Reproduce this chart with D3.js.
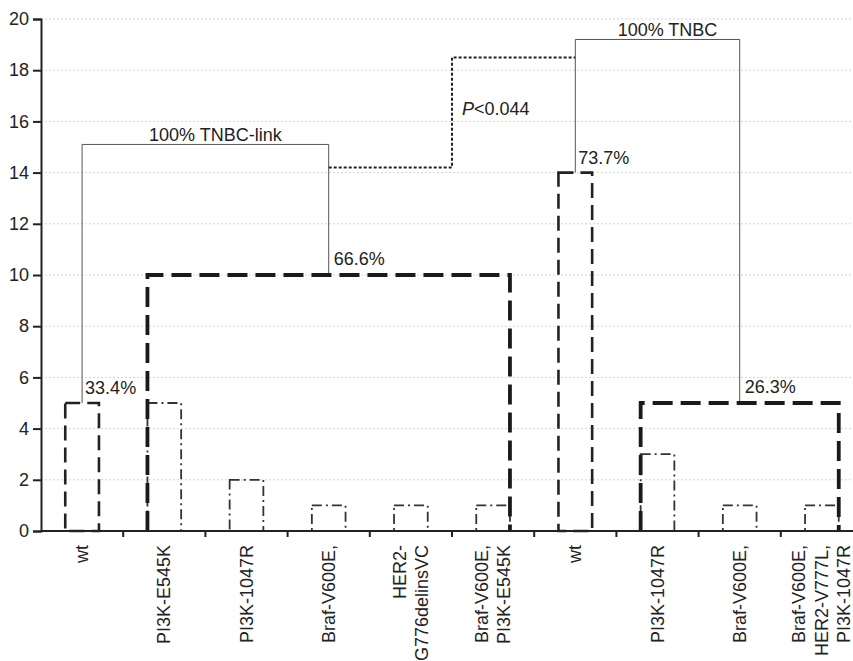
<!DOCTYPE html>
<html>
<head>
<meta charset="utf-8">
<script src="https://cdn.jsdelivr.net/npm/d3@7"></script>
<style>
  body { margin: 0; background: #fff; }
  text { font-family: "Liberation Sans", Arial, sans-serif; fill: #222; }
</style>
</head>
<body>
<div id="chart"></div>
<script>
// categories along the x axis (one band each)
const categories = ["wt", "PI3K-E545K", "PI3K-1047R", "Braf-V600E,", "HER2-G776delinsVC",
  "Braf-V600E, PI3K-E545K", "wt", "PI3K-1047R", "Braf-V600E,", "Braf-V600E, HER2-V777L, PI3K-1047R"];
const labelLines = [["wt"], ["PI3K-E545K"], ["PI3K-1047R"], ["Braf-V600E,"], ["HER2-", "G776delinsVC"],
  ["Braf-V600E,", "PI3K-E545K"], ["wt"], ["PI3K-1047R"], ["Braf-V600E,"], ["Braf-V600E,", "HER2-V777L,", "PI3K-1047R"]];

// wild type bars
const wtIdx = [0, 6];
const wtCounts = [5, 14];
const wtPct = ["33.4%", "73.7%"];

// single mutation bars
const mutIdx = [1, 2, 3, 4, 5, 7, 8, 9];
const mutCounts = [5, 2, 1, 1, 1, 3, 1, 1];

// mutated group boxes
const groupStart = [1, 7];
const groupEnd = [5, 9];
const groupCounts = [10, 5];
const groupPct = ["66.6%", "26.3%"];

// brackets linking wt to mutated group
const bracketTops = [15.1, 19.2];
const bracketLabels = ["100% TNBC-link", "100% TNBC"];

// dotted link between the two brackets
const linkLevels = [14.2, 18.5];
const pValueY = 16.25;

const yTicks = [0, 2, 4, 6, 8, 10, 12, 14, 16, 18, 20];

const width = 853, height = 661;
const margin = { top: 19, left: 41 };
const plotBottom = 531;

const svg = d3.select("#chart").append("svg")
  .attr("width", width).attr("height", height);

const x = d3.scaleBand().domain(d3.range(categories.length)).range([margin.left, 863]).padding(0);
const y = d3.scaleLinear().domain([0, 20]).range([plotBottom, margin.top]);
const barW = x.bandwidth() * 0.41;
const cx = i => x(i) + x.bandwidth() / 2;

// gridlines
svg.append("g").selectAll("line").data(yTicks.filter(d => d > 0)).join("line")
  .attr("x1", margin.left).attr("x2", width)
  .attr("y1", d => y(d)).attr("y2", d => y(d))
  .attr("stroke", "#d4d4d4").attr("stroke-width", 1).attr("stroke-dasharray", "2,2");

// brackets (thin grey)
const groupCenter = k => ((cx(groupStart[k]) - barW / 2) + (cx(groupEnd[k]) + barW / 2)) / 2;
bracketTops.forEach((top, k) => {
  const x0 = cx(wtIdx[k]), x1 = groupCenter(k);
  svg.append("path")
    .attr("d", d3.line()([[x0, y(wtCounts[k])], [x0, y(top)], [x1, y(top)], [x1, y(groupCounts[k])]]))
    .attr("fill", "none").attr("stroke", "#555").attr("stroke-width", 1);
  svg.append("text")
    .attr("x", (x0 + x1) / 2 + 10).attr("y", y(top) - 3)
    .attr("text-anchor", "middle").attr("font-size", 18)
    .text(bracketLabels[k]);
});

// dotted link
const midX = x(5);
svg.append("path")
  .attr("d", d3.line()([[groupCenter(0), y(linkLevels[0])], [midX, y(linkLevels[0])],
    [midX, y(linkLevels[1])], [cx(wtIdx[1]), y(linkLevels[1])]]))
  .attr("fill", "none").attr("stroke", "#222").attr("stroke-width", 2).attr("stroke-dasharray", "3,2");
const pt = svg.append("text").attr("x", midX + 10).attr("y", y(pValueY)).attr("font-size", 18);
pt.append("tspan").attr("font-style", "italic").text("P");
pt.append("tspan").text("<0.044");

// single mutation bars (dash-dot)
svg.append("g").selectAll("rect").data(mutIdx).join("rect")
  .attr("x", d => cx(d) - barW / 2)
  .attr("y", (d, i) => y(mutCounts[i]))
  .attr("width", barW)
  .attr("height", (d, i) => plotBottom - y(mutCounts[i]))
  .attr("fill", "none").attr("stroke", "#333").attr("stroke-width", 1.8)
  .attr("stroke-dasharray", "10,4,2,4");

// wt bars (dashed)
svg.append("g").selectAll("rect").data(wtIdx).join("rect")
  .attr("x", d => cx(d) - barW / 2)
  .attr("y", (d, i) => y(wtCounts[i]))
  .attr("width", barW)
  .attr("height", (d, i) => plotBottom - y(wtCounts[i]))
  .attr("fill", "none").attr("stroke", "#222").attr("stroke-width", 2.6)
  .attr("stroke-dasharray", "15,7");

// group boxes (thick dashed)
groupStart.forEach((s, k) => {
  const x0 = cx(s) - barW / 2, x1 = cx(groupEnd[k]) + barW / 2;
  svg.append("path")
    .attr("d", d3.line()([[x0, plotBottom], [x0, y(groupCounts[k])], [x1, y(groupCounts[k])], [x1, plotBottom]]))
    .attr("fill", "none").attr("stroke", "#1a1a1a").attr("stroke-width", 3.8)
    .attr("stroke-dasharray", "20,8");
});

// percent labels
wtIdx.forEach((c, k) => {
  svg.append("text").attr("x", cx(c) + 3).attr("y", y(wtCounts[k]) - 9)
    .attr("font-size", 18).text(wtPct[k]);
});
groupStart.forEach((s, k) => {
  svg.append("text").attr("x", groupCenter(k) + 5).attr("y", y(groupCounts[k]) - 10)
    .attr("font-size", 18).text(groupPct[k]);
});

// axes
const yAxis = svg.append("g").attr("transform", `translate(${margin.left},0)`)
  .call(d3.axisLeft(y).tickValues(yTicks).tickSize(8).tickPadding(4));
yAxis.selectAll("text").attr("font-size", 18).attr("fill", "#222")
  .style("font-family", '"Liberation Sans", Arial, sans-serif');

svg.append("line").attr("x1", margin.left).attr("x2", width)
  .attr("y1", plotBottom).attr("y2", plotBottom).attr("stroke", "#222").attr("stroke-width", 2);
svg.append("g").selectAll("line").data(d3.range(1, categories.length)).join("line")
  .attr("x1", d => x(d)).attr("x2", d => x(d))
  .attr("y1", plotBottom).attr("y2", plotBottom + 6)
  .attr("stroke", "#222").attr("stroke-width", 2);

yAxis.select(".domain").attr("stroke", "#222").attr("stroke-width", 2);
yAxis.selectAll(".tick line").attr("stroke", "#222").attr("stroke-width", 2);

// rotated category labels
const lineGap = 22.5;
labelLines.forEach((lines, i) => {
  lines.forEach((ln, j) => {
    const px = cx(i) + (j - (lines.length - 1) / 2) * lineGap + 6;
    svg.append("text")
      .attr("transform", `translate(${px},545) rotate(-90)`)
      .attr("text-anchor", "end").attr("font-size", 18)
      .text(ln);
  });
});
</script>
</body>
</html>
